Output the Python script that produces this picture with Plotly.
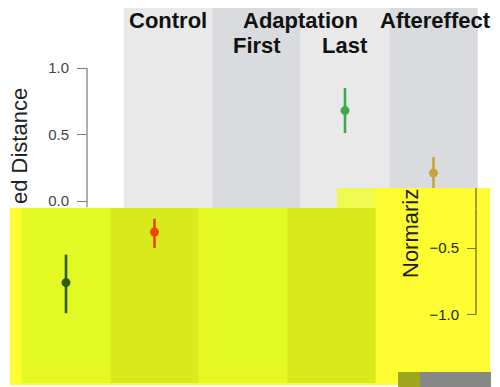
import plotly.graph_objects as go

# ---------------- data ----------------
categories = ["Control", "First", "Last", "Aftereffect"]
means = [-0.76, -0.38, 0.68, 0.21]
err_plus = [0.21, 0.10, 0.17, 0.12]
err_minus = [0.23, 0.12, 0.17, 0.12]
point_colors = ["#2f5e0c", "#e8480c", "#3aad4a", "#c9a63a"]
top_ticks = [1.0, 0.5, 0.0]
top_ticktext = ["1.0", "0.5", "0.0"]
low_ticks = [-0.5, -1.0]
low_ticktext = ["\u22120.5", "\u22121.0"]

# ---------------- layout constants (pixels) ----------------
W, H = 500, 387
PX_UNIT_X = 88.5      # px per category
PX_UNIT_Y = 133.0     # px per 1.0 on y
X0_PX = 79.5          # pixel of x = 0
Y0_PX = 201.0         # pixel of y = 0
SPLIT = 208           # boundary between clean top and glitched lower part
SHIFT_X, SHIFT_Y = -102.0, -19.5
LOW_L, LOW_R, LOW_B = 10, 490, 385

def py2paper(py):
    return 1 - py / H

xs = [1, 2, 3, 4]

top_xr = [(0 - X0_PX) / PX_UNIT_X, (W - X0_PX) / PX_UNIT_X]
top_yr = [(Y0_PX - SPLIT) / PX_UNIT_Y, (Y0_PX - 0) / PX_UNIT_Y]
low_xr = [(LOW_L - X0_PX - SHIFT_X) / PX_UNIT_X, (LOW_R - X0_PX - SHIFT_X) / PX_UNIT_X]
low_yr = [(Y0_PX + SHIFT_Y - LOW_B) / PX_UNIT_Y, (Y0_PX + SHIFT_Y - SPLIT) / PX_UNIT_Y]

fig = go.Figure()
for xa, ya in [("x", "y"), ("x2", "y2")]:
    for i in range(len(categories)):
        fig.add_trace(go.Scatter(
            x=[xs[i]], y=[means[i]], mode="markers",
            marker=dict(size=9, color=point_colors[i]),
            error_y=dict(type="data", array=[err_plus[i]], arrayminus=[err_minus[i]],
                         color=point_colors[i], thickness=2.6, width=0),
            xaxis=xa, yaxis=ya, showlegend=False, hoverinfo="skip"))

shapes = []
panel_cols = ["#e9e9ea", "#d9dbde", "#e9e9ea", "#d9dbde"]
for i, c in enumerate(panel_cols):
    shapes.append(dict(type="rect", xref="x", yref="y", x0=xs[i] - 0.5, x1=xs[i] + 0.5,
                       y0=top_yr[0] - 0.1, y1=(Y0_PX - 8) / PX_UNIT_Y,
                       fillcolor=c, line=dict(width=0), layer="below"))
shapes.append(dict(type="line", xref="paper", yref="y", x0=87 / W, x1=87 / W,
                   y0=1.0, y1=top_yr[0] + 0.005, line=dict(color="#7a7a7a", width=1.2)))
shapes.append(dict(type="rect", xref="x2 domain", yref="y2 domain", x0=0, x1=1, y0=0, y1=1,
                   fillcolor="#fdfd32", line=dict(width=0), layer="below"))
low_cols = ["#e3f923", "#d9ea1c", "#e3f923", "#d9ea1c"]
for i, c in enumerate(low_cols):
    shapes.append(dict(type="rect", xref="x2", yref="y2", x0=xs[i] - 0.5, x1=xs[i] + 0.5,
                       y0=(Y0_PX + SHIFT_Y - 383) / PX_UNIT_Y, y1=low_yr[1] + 0.1,
                       fillcolor=c, line=dict(width=0), layer="below"))
shapes.append(dict(type="line", xref="paper", yref="y2", x0=476 / W, x1=476 / W,
                   y0=-1.0, y1=low_yr[1] - 0.002, line=dict(color="#7a7a05", width=1.4)))
shapes.append(dict(type="rect", xref="paper", yref="paper", x0=337 / W, x1=375 / W,
                   y0=py2paper(SPLIT), y1=py2paper(188), fillcolor="#eefa50",
                   line=dict(width=0), layer="above"))
shapes.append(dict(type="rect", xref="paper", yref="paper", x0=375 / W, x1=LOW_R / W,
                   y0=py2paper(SPLIT), y1=py2paper(188), fillcolor="#fdfd32",
                   line=dict(width=0), layer="above"))
shapes.append(dict(type="line", xref="paper", yref="paper", x0=476 / W, x1=476 / W,
                   y0=py2paper(SPLIT), y1=py2paper(188), line=dict(color="#7a7a05", width=1.4),
                   layer="above"))
shapes.append(dict(type="rect", xref="paper", yref="paper", x0=398 / W, x1=420 / W,
                   y0=py2paper(387), y1=py2paper(372), fillcolor="#9fa51c",
                   line=dict(width=0), layer="above"))
shapes.append(dict(type="rect", xref="paper", yref="paper", x0=420 / W, x1=491 / W,
                   y0=py2paper(387), y1=py2paper(372), fillcolor="#878787",
                   line=dict(width=0), layer="above"))

hdr_font = dict(family="Liberation Sans, Arial, sans-serif", size=22, color="#111111")
annotations = [
    dict(text="<b>Control</b>", x=1, y=py2paper(21)),
    dict(text="<b>Adaptation</b>", x=2.5, y=py2paper(21)),
    dict(text="<b>Aftereffect</b>", x=4.02, y=py2paper(21)),
    dict(text="<b>First</b>", x=2, y=py2paper(46)),
    dict(text="<b>Last</b>", x=3, y=py2paper(46)),
]
annotations = [dict(a, xref="x", yref="paper", showarrow=False, font=hdr_font,
                    xanchor="center", yanchor="middle") for a in annotations]
annotations.append(dict(text="ed Distance", xref="paper", yref="paper", x=20 / W, y=py2paper(146),
                        textangle=-90, showarrow=False, xanchor="center", yanchor="middle",
                        font=dict(family="Liberation Sans, Arial, sans-serif", size=22, color="#222222")))
annotations.append(dict(text="Normariz", xref="paper", yref="paper", x=410 / W, y=py2paper(234),
                        textangle=-90, showarrow=False, xanchor="center", yanchor="middle",
                        font=dict(family="Liberation Sans, Arial, sans-serif", size=22, color="#1e1e00")))

fig.update_layout(
    width=W, height=H, margin=dict(l=0, r=0, t=0, b=0),
    paper_bgcolor="white", plot_bgcolor="rgba(0,0,0,0)",
    xaxis=dict(domain=[0, 1], range=top_xr, visible=False, anchor="y"),
    yaxis=dict(domain=[py2paper(SPLIT), 1], range=top_yr, anchor="free", position=87 / W,
               tickvals=top_ticks, ticktext=top_ticktext, ticks="outside", ticklen=10,
               tickcolor="#7a7a7a", tickwidth=1.2, showline=False, showgrid=False, zeroline=False,
               ticklabelstandoff=5,
               tickfont=dict(family="Liberation Sans, Arial, sans-serif", size=15, color="#444444")),
    xaxis2=dict(domain=[LOW_L / W, LOW_R / W], range=low_xr, visible=False, anchor="y2"),
    yaxis2=dict(domain=[py2paper(LOW_B), py2paper(SPLIT)], range=low_yr, anchor="free",
                position=476 / W, tickvals=low_ticks, ticktext=low_ticktext, ticks="outside",
                ticklen=9, tickcolor="#7a7a05", tickwidth=1.4, showline=False, showgrid=False,
                zeroline=False, ticklabelstandoff=5,
                tickfont=dict(family="Liberation Sans, Arial, sans-serif", size=15, color="#262600")),
    shapes=shapes, annotations=annotations,
)

fig.write_html("out.html", config={"displayModeBar": False},
               post_script="document.body.style.margin='0';document.body.style.padding='0';")
